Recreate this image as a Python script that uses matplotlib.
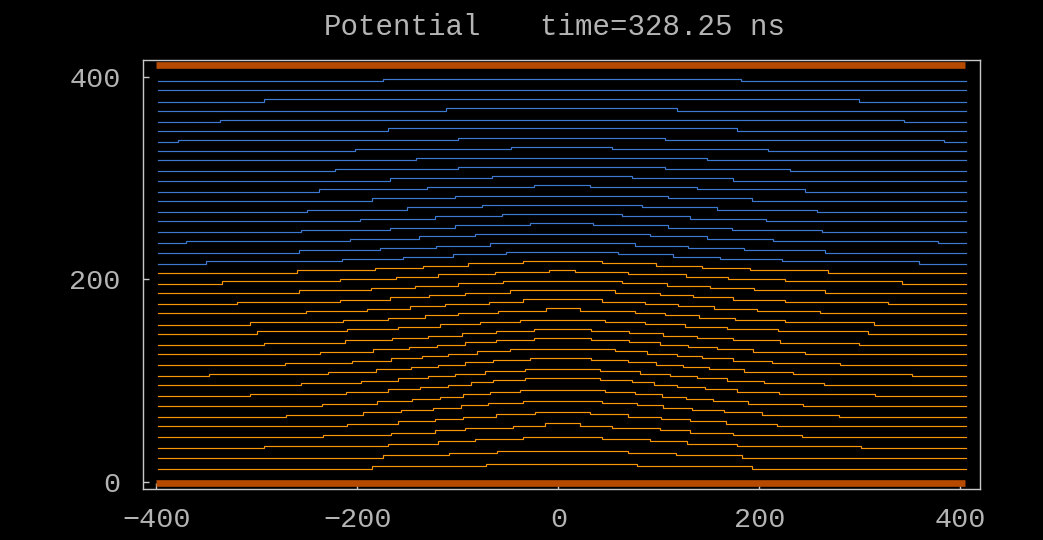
import matplotlib
matplotlib.use("Agg")
import matplotlib.pyplot as plt
import numpy as np

plt.rcParams['font.family'] = ['Liberation Mono', 'DejaVu Sans Mono']

# ---------------- data ----------------
title_left = "Potential"
title_right = "time=328.25 ns"
x_ticks = [-400, -200, 0, 200, 400]
y_ticks = [0, 200, 400]

x_start, x_end = -398.0, 405.5      # extent of contour lines
plate_x = [-400.0, 405.0]           # electrodes
plate_y = [-1.0, 411.0]
step_height = 2.3
n_blue = 19

# baseline (edge) level of each equipotential line, top to bottom
levels = [395.6, 386.7, 375.2, 366.4, 355.3, 346.5, 335.3, 326.4, 317.6, 306.4,
          297.5, 286.4, 277.6, 266.5, 257.6, 246.4, 235.6, 226.4, 215.6,
          206.5, 195.7, 186.8, 175.3, 166.5, 155.4, 146.5, 135.5, 126.5, 115.3,
          104.5, 95.7, 84.6, 75.3, 64.5, 55.4, 44.2, 33.4, 24.2, 13.4]

# x positions where each line steps up (left side)
up_steps = [
    [-174.7],
    [],
    [-293.3],
    [-111.5],
    [-337.1],
    [-169.5],
    [-378.6, -99.8],
    [-202.7, -46.8],
    [-141.4],
    [-222.6, -99.8],
    [-167.8, -65.7],
    [-238.5, -130.7, -24.5],
    [-185.2, -103.1],
    [-249.9, -150.3, -75.7],
    [-197.7, -123.0, -55.7],
    [-256.4, -167.8, -103.1, -27.9],
    [-370.3, -207.1, -138.7, -83.2],
    [-258.4, -177.8, -121.4, -68.3],
    [-350.4, -215.0, -154.6, -104.8, -51.8],
    [-260.1, -182.8, -134.7, -89.9, -35.1],
    [-334.5, -217.0, -161.3, -119.8, -62.7, -9.3],
    [-258.1, -186.8, -143.0, -100.0, -55.0],
    [-319.9, -217.6, -167.8, -128.7, -93.3, -48.5],
    [-250.9, -190.4, -147.9, -113.1, -69.0, -35.1],
    [-306.5, -214.3, -169.5, -132.9, -99.8, -60.0, -12.0],
    [-300.0, -210.0, -160.0, -118.0, -78.0, -38.0],
    [-292.6, -212.0, -165.5, -129.6, -95.7, -61.9, -24.2],
    [-237.6, -184.9, -149.0, -120.9, -92.6, -61.8, -24.2],
    [-272.4, -205.1, -166.2, -135.4, -109.8, -80.6, -48.4],
    [-347.7, -229.3, -181.2, -146.3, -119.8, -93.2, -65.0, -28.2],
    [-255.8, -196.1, -159.6, -129.6, -102.8, -72.9, -33.1],
    [-306.6, -211.8, -169.5, -137.4, -109.8, -86.9, -65.0, -33.4],
    [-235.5, -180.2, -145.3, -118.1, -94.9, -68.3, -38.4],
    [-271.4, -194.4, -156.3, -124.7, -96.6, -70.0, -35.1],
    [-210.3, -159.6, -123.0, -94.9, -61.7, -23.5],
    [-234.2, -166.2, -123.0, -93.2, -45.1, -13.2],
    [-293.3, -169.5, -119.8, -83.2, -35.1],
    [-174.5, -108.8, -61.0],
    [-185.8, -71.7],
]

# x positions where each line steps back down (right side)
down_steps = [
    [181.6],
    [],
    [298.7],
    [117.9],
    [344.1],
    [177.6],
    [106.2, 384.0],
    [53.8, 208.1],
    [147.7],
    [106.2, 230.7],
    [73.1, 174.2],
    [31.6, 137.8, 245.6],
    [109.5, 192.5],
    [83.0, 157.7, 257.2],
    [63.1, 131.1, 206.5],
    [34.8, 109.5, 172.6, 262.2],
    [91.3, 147.7, 214.0, 377.7],
    [76.4, 129.4, 184.2, 265.5],
    [59.7, 114.5, 161.0, 222.4, 358.4],
    [43.2, 97.0, 142.8, 190.8, 268.2],
    [16.6, 69.1, 127.1, 169.2, 225.7, 341.9],
    [63.0, 107.8, 151.0, 194.8, 265.5],
    [56.4, 101.2, 134.4, 174.2, 225.7, 327.9],
    [43.2, 86.3, 118.9, 155.3, 197.5, 260.5],
    [21.6, 76.4, 106.2, 139.4, 175.9, 225.7, 313.6],
    [46.0, 86.0, 126.0, 168.0, 218.0, 308.0],
    [32.2, 70.0, 103.8, 137.7, 173.5, 220.0, 298.6],
    [32.2, 70.3, 101.2, 129.4, 157.6, 193.4, 245.7],
    [56.4, 88.6, 117.7, 143.3, 174.2, 213.0, 280.3],
    [32.1, 69.0, 97.1, 123.7, 150.3, 185.1, 233.2, 351.7],
    [41.1, 80.9, 110.8, 137.7, 167.5, 204.1, 263.8],
    [41.4, 73.0, 94.9, 117.8, 145.4, 177.5, 219.6, 314.6],
    [46.5, 76.3, 102.9, 126.5, 153.4, 188.2, 243.5],
    [43.1, 78.0, 104.5, 132.7, 164.6, 202.4, 279.3],
    [31.0, 69.2, 102.4, 130.6, 167.1, 217.9],
    [21.2, 53.0, 101.2, 131.1, 174.2, 242.2],
    [43.1, 91.2, 127.7, 177.5, 301.2],
    [69.0, 116.8, 182.5],
    [78.0, 192.5],
]

blue = '#3c7ad2'
orange = '#f99608'
plate_color = '#b54a00'
text_color = '#b4b4b4'
frame_color = '#c8c8c8'

# ---------------- figure ----------------
fig = plt.figure(figsize=(10.43, 5.40), dpi=100, facecolor='black')
ax = fig.add_axes([143 / 1043, 1 - 489 / 540, (980 - 143) / 1043, (489 - 60) / 540])
ax.set_facecolor('black')

for i, (y0, ups, downs) in enumerate(zip(levels, up_steps, down_steps)):
    events = sorted([(x, 1) for x in ups] + [(x, -1) for x in downs])
    xs = [x_start]
    ys = [y0]
    cur = y0
    for x, s in events:
        cur = cur + s * step_height
        xs.append(x)
        ys.append(cur)
    xs.append(x_end)
    ys.append(cur)
    ax.plot(xs, ys, drawstyle='steps-post', color=blue if i < n_blue else orange,
            lw=0.85, solid_joinstyle='miter')

for py in plate_y:
    ax.plot(plate_x, [py, py], color=plate_color, lw=4.8, solid_capstyle='butt')

ax.set_xlim(-413.4, 419.5)
ax.set_ylim(-6.6, 416.3)
ax.set_xticks(x_ticks)
ax.set_yticks(y_ticks)
ax.tick_params(direction='in', length=4, width=1, colors=frame_color,
               labelcolor=text_color, labelsize=20.5)
ax.tick_params(axis='x', pad=13)
ax.tick_params(axis='y', pad=16)
for sp in ax.spines.values():
    sp.set_color(frame_color)
    sp.set_linewidth(1.0)

fig.text(324 / 1043, 1 - 27 / 540, title_left, color=text_color, fontsize=21,
         ha='left', va='center')
fig.text(540 / 1043, 1 - 27 / 540, title_right, color=text_color, fontsize=21,
         ha='left', va='center')

fig.savefig('out.png', dpi=100, facecolor='black')
